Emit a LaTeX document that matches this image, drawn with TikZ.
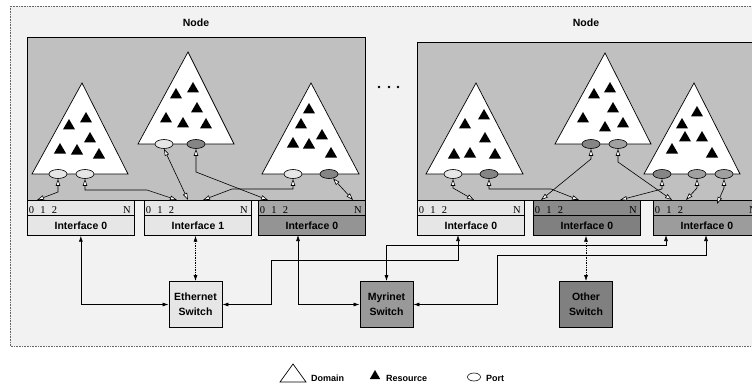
\documentclass[tikz,border=0pt]{standalone}
\usepackage{fontspec}
\setmainfont{Liberation Sans}
\newfontfamily\tmfont{Liberation Serif}
\usetikzlibrary{arrows.meta,shapes.geometric,calc}
\definecolor{bgc}{HTML}{F2F2F2}
\definecolor{nodegray}{HTML}{C0C0C0}
\definecolor{lite}{HTML}{E6E6E6}
\definecolor{portdark}{HTML}{858585}
\definecolor{portmed}{HTML}{A0A0A0}
\begin{document}
\begin{tikzpicture}[x=1pt,y=-1pt,
  nodebox/.style={draw=black,line width=0.8pt,fill=nodegray},
  domtri/.style={draw=black,line width=0.7pt,fill=white,line join=miter},
  portell/.style={ellipse,draw=black,line width=0.6pt,minimum width=18pt,minimum height=9pt,inner sep=0pt},
  restri/.style={regular polygon,regular polygon sides=3,fill=black,inner sep=0pt,minimum size=14pt},
  stripbox/.style={draw=black,line width=0.7pt,minimum width=107pt,minimum height=15pt,inner sep=0pt,anchor=north west},
  iflabel/.style={draw=black,line width=0.7pt,minimum width=107pt,minimum height=20pt,inner sep=0pt,anchor=north west,font=\fontsize{10.5}{12}\selectfont\bfseries},
  numtxt/.style={font=\tmfont\fontsize{10.5}{12}\selectfont,anchor=base,inner sep=0pt},
  switchbox/.style={draw=black,line width=0.8pt,minimum width=53pt,minimum height=46pt,inner sep=0pt,align=center,font=\fontsize{10.5}{15}\selectfont\bfseries},
  parrow/.style={line width=0.6pt,{Triangle[length=7pt,width=4.5pt,fill=white]}-{Triangle[length=7pt,width=4.5pt,fill=white]}},
  larrow/.style={line width=0.7pt,{Latex[length=6pt,width=4pt]}-{Latex[length=6pt,width=4pt]}},
  ttl/.style={font=\fontsize{10.5}{12}\selectfont\bfseries},
  lgdtxt/.style={font=\fontsize{9}{11}\selectfont\bfseries,anchor=base west,inner sep=0pt},
]
\useasboundingbox (0,0) rectangle (752,385);
\clip (0,0) rectangle (752,385);
% background
\draw[fill=bgc,draw=black!60,densely dotted,line width=0.6pt] (10,6) rectangle (770,346);
% titles
\node[ttl] (t1) at (196,23) {Node};
\node[ttl] (t2) at (586,23) {Node};
% node boxes
\draw[nodebox] (27,37) rectangle (365,200);
\draw[nodebox] (417,42) rectangle (775,200);
% dots
\fill (379,87) circle (1.4);
\fill (389,87) circle (1.4);
\fill (398,87) circle (1.4);
% domains
\draw[domtri] (32,174) -- (82,83) -- (128,174) -- cycle;
\draw[domtri] (138,144) -- (188,52) -- (234,144) -- cycle;
\draw[domtri] (262,174) -- (311,83) -- (359,174) -- cycle;
\draw[domtri] (426,174) -- (476,83) -- (523,174) -- cycle;
\draw[domtri] (555,144) -- (605,53) -- (651,144) -- cycle;
\draw[domtri] (644,174) -- (694,83) -- (740,174) -- cycle;
% resources
\foreach \p [count=\i] in {(69,126),(86,119),(90,139),(60,150),(77,151),(99,155),
  (176,95),(193,89),(197,109),(166,119),(183,124),(206,125),
  (309,110),(301,125),(322,136),(293,144),(309,145),(331,154),
  (465,125),(484,116),(485,139),(454,155),(470,154),(495,155),
  (594,95),(610,89),(613,109),(583,119),(605,128),(623,124),
  (697,113),(682,125),(685,138),(702,138),(672,150),(712,154)}
  \node[restri] (r\i) at \p {};
% ports
\node[portell,fill=lite] (p1a) at (58,174) {};
\node[portell,fill=lite] (p1b) at (85,174) {};
\node[portell,fill=lite] (p2a) at (164,144) {};
\node[portell,fill=portdark] (p2b) at (196,144) {};
\node[portell,fill=lite] (p3a) at (293,174) {};
\node[portell,fill=portdark] (p3b) at (329,174) {};
\node[portell,fill=lite] (p4a) at (453,174) {};
\node[portell,fill=portdark] (p4b) at (489,174) {};
\node[portell,fill=portdark] (p5a) at (591,144) {};
\node[portell,fill=portmed] (p5b) at (618,144) {};
\node[portell,fill=portdark] (p6a) at (662,174) {};
\node[portell,fill=portmed] (p6b) at (697,174) {};
\node[portell,fill=portmed] (p6c) at (724,174) {};
% interfaces
\node[stripbox,fill=lite] (n1s0) at (27,200) {};
\node[iflabel,fill=lite] (n1i0) at (27,215) {Interface 0};
\node[stripbox,fill=lite] (n1s1) at (144,200) {};
\node[iflabel,fill=lite] (n1i1) at (144,215) {Interface 1};
\node[stripbox,fill=black!35] (n1s2) at (258,200) {};
\node[iflabel,fill=black!42] (n1i2) at (258,215) {Interface 0};
\node[stripbox,fill=lite] (n2s0) at (417,200) {};
\node[iflabel,fill=lite] (n2i0) at (417,215) {Interface 0};
\node[stripbox,fill=black!46] (n2s1) at (533,200) {};
\node[iflabel,fill=black!50] (n2i1) at (533,215) {Interface 0};
\node[stripbox,fill=black!37] (n2s2) at (653,200) {};
\node[iflabel,fill=black!39] (n2i2) at (653,215) {Interface 0};
\foreach \L/\nm in {27/a,144/b,258/c,417/d,533/e,653/f}{
  \node[numtxt] (z\nm) at (\L+4.5,213) {0};
  \node[numtxt] (o\nm) at (\L+16,213) {1};
  \node[numtxt] (w\nm) at (\L+27.5,213) {2};
  \node[numtxt] (N\nm) at (\L+100,213) {N};
}
% port connectors
\coordinate (e1) at (37,200);
\coordinate (e2) at (177,200);
\coordinate (e3) at (188,200);
\coordinate (e4) at (268,200);
\coordinate (e5) at (203,200);
\coordinate (e6) at (353,200);
\coordinate (e7) at (474,200);
\coordinate (e8) at (579,200);
\coordinate (e9) at (541,200);
\coordinate (e10) at (672,200);
\coordinate (e11) at (620,200);
\coordinate (e12) at (686,200);
\coordinate (e13) at (717,204);
\draw[parrow] (p1a.south) -- (58,192) -- (e1);
\draw[parrow] (p1b.south) -- (85,190) -- (147,190) -- (e2);
\draw[parrow] (p2a.south) -- (e3);
\draw[parrow] (p2b.south) -- (196,172) -- (e4);
\draw[parrow] (p3a.south) -- (293,189) -- (232,189) -- (e5);
\draw[parrow] (p3b) -- (e6);
\draw[parrow] (p4a.south) -- (453,188) -- (e7);
\draw[parrow] (p4b.south) -- (489,189) -- (551,189) -- (e8);
\draw[parrow] (p5a.south) -- (591,159) -- (e9);
\draw[parrow] (p5b.south) -- (618,162) -- (e10);
\draw[parrow] (p6a.south) -- (662,189) -- (e11);
\draw[parrow] (p6b.south) -- (697,188) -- (e12);
\draw[parrow] (p6c.south) -- (724,188) -- (e13);
% switches
\node[switchbox,fill=lite] (eth) at (195.5,304.5) {Ethernet\\Switch};
\node[switchbox,fill=black!40] (myr) at (386.5,304.5) {Myrinet\\Switch};
\node[switchbox,fill=black!50] (oth) at (586,304.5) {Other\\Switch};
% network connectors
\coordinate (b1) at (458,235);
\coordinate (k1) at (458,260);
\coordinate (k2) at (271,260);
\coordinate (b2) at (298,235);
\coordinate (b3) at (666,235);
\coordinate (k3) at (666,245);
\coordinate (k4) at (497,255);
\coordinate (k5) at (706,255);
\coordinate (b4) at (706,235);
\draw[larrow] (n1i0.south) |- (eth.west);
\draw[larrow,densely dotted] (eth.north |- n1i1.south) -- (eth.north);
\draw[larrow] (b1) -- (k1) -- (k2) |- (eth.east);
\draw[larrow] (b2) |- (myr.west);
\draw[larrow] (myr.north) |- (k3) -- (b3);
\draw[larrow] (myr.east) -| (k4) -- (k5) -- (b4);
\draw[larrow,densely dotted] (oth.north |- n2i1.south) -- (oth.north);
% legend
\draw[domtri] (280,382) -- (293,364) -- (306,382) -- cycle;
\node[lgdtxt] (ld) at (311,381) {Domain};
\node[restri,minimum size=12pt] (lr) at (375,376) {};
\node[lgdtxt] (lrt) at (386,381) {Resource};
\node[portell,minimum width=13pt,minimum height=8pt,fill=white] (lp) at (474,377) {};
\node[lgdtxt] (lpt) at (486,381) {Port};
\end{tikzpicture}
\end{document}
